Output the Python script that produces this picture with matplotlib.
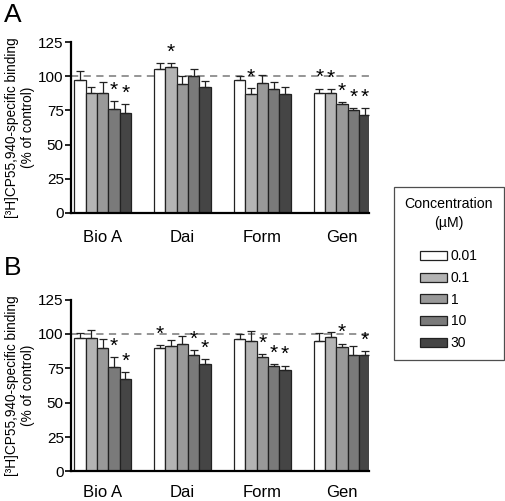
import numpy as np
import matplotlib.pyplot as plt
from matplotlib.patches import Patch

plt.rcParams['font.family'] = ['Liberation Sans', 'DejaVu Sans']

compounds = ['Bio A', 'Dai', 'Form', 'Gen']
concentrations = ['0.01', '0.1', '1', '10', '30']
colors = ['#ffffff', '#b4b4b4', '#999999', '#7a7a7a', '#454545']

# panel A: mean and SEM (% of control), rows = concentration
mean_a = np.array([
    [97.5, 105.5, 97.5, 88.0],
    [87.5, 107.0, 87.0, 88.0],
    [88.0, 94.0, 95.0, 79.5],
    [76.0, 100.0, 91.0, 75.5],
    [73.0, 92.5, 87.0, 71.5],
])
err_a = np.array([
    [6.0, 4.0, 2.5, 3.0],
    [5.0, 2.5, 4.5, 2.5],
    [8.0, 6.0, 6.0, 1.5],
    [6.0, 5.0, 5.0, 1.0],
    [6.5, 4.0, 5.5, 5.0],
])
star_a = np.array([
    [0, 0, 0, 1],
    [0, 1, 1, 1],
    [0, 0, 0, 1],
    [1, 0, 0, 1],
    [1, 0, 0, 1],
])

# panel B
mean_b = np.array([
    [97.0, 89.5, 96.5, 95.0],
    [97.0, 91.5, 95.0, 97.5],
    [90.0, 93.0, 83.0, 90.5],
    [76.0, 85.0, 76.5, 85.0],
    [67.0, 78.5, 73.5, 84.5],
])
err_b = np.array([
    [4.0, 2.5, 3.5, 6.0],
    [6.0, 4.0, 7.0, 4.0],
    [6.0, 5.5, 2.5, 2.5],
    [7.0, 3.0, 1.5, 6.5],
    [5.5, 3.0, 3.5, 3.0],
])
star_b = np.array([
    [0, 1, 0, 0],
    [0, 0, 0, 0],
    [0, 0, 1, 1],
    [1, 1, 1, 0],
    [1, 1, 1, 1],
])

fig = plt.figure(figsize=(5.05, 5.01), dpi=100)
ax_a = fig.add_axes([0.140, 0.575, 0.591, 0.341])
ax_b = fig.add_axes([0.140, 0.059, 0.591, 0.343])

width = 0.142
x = np.arange(len(compounds))


def draw_panel(ax, mean, err, star, xpad):
    for i in range(len(concentrations)):
        pos = x + (i - 2) * width
        ax.bar(pos, mean[i], width, color=colors[i], edgecolor='#222222',
               linewidth=0.9, zorder=2)
        ax.errorbar(pos, mean[i], yerr=[np.zeros(len(x)), err[i]], fmt='none',
                    ecolor='#222222', elinewidth=0.9, capsize=3, capthick=0.9,
                    zorder=3)
        for j in range(len(x)):
            if star[i, j]:
                ax.text(pos[j], mean[i, j] + err[i, j] + 1.0, '*', ha='center',
                        va='bottom', fontsize=15, zorder=4)
    ax.axhline(100, color='#8c8c8c', linestyle=(0, (4, 3)), linewidth=1.3,
               zorder=1)
    ax.set_xlim(-0.40, 3.34)
    ax.set_ylim(0, 125)
    ax.set_yticks([0, 25, 50, 75, 100, 125])
    ax.set_xticks(x)
    ax.set_xticklabels(compounds, fontsize=12)
    ax.tick_params(axis='x', length=0, pad=xpad)
    ax.tick_params(axis='y', length=4, width=1.2, labelsize=11, pad=1)
    ax.spines['top'].set_visible(False)
    ax.spines['right'].set_visible(False)
    ax.spines['left'].set_linewidth(1.6)
    ax.spines['bottom'].set_linewidth(1.6)
    ax.set_ylabel('[³H]CP55,940-specific binding\n(% of control)',
                  fontsize=9.8, linespacing=1.25)
    ax.yaxis.set_label_coords(-0.118, 0.5)


draw_panel(ax_a, mean_a, err_a, star_a, 12)
draw_panel(ax_b, mean_b, err_b, star_b, 10)

fig.text(0.008, 0.995, 'A', fontsize=19, va='top')
fig.text(0.008, 0.49, 'B', fontsize=19, va='top')

handles = [Patch(facecolor=c, edgecolor='#222222', linewidth=0.9) for c in colors]
leg = fig.legend(handles, concentrations, title='Concentration\n(µM)',
                 loc='center', bbox_to_anchor=(0.889, 0.454), fontsize=10,
                 title_fontsize=10.2, frameon=True, fancybox=False,
                 edgecolor='#222222', handlelength=1.9, handleheight=0.6,
                 labelspacing=0.55, handletextpad=0.3, borderpad=0.75,
                 borderaxespad=0)
leg.get_frame().set_linewidth(0.9)
leg.get_title().set_multialignment('center')
leg.get_title().set_linespacing(1.45)
leg._legend_box.sep = 14

fig.savefig('out.png', dpi=100)
